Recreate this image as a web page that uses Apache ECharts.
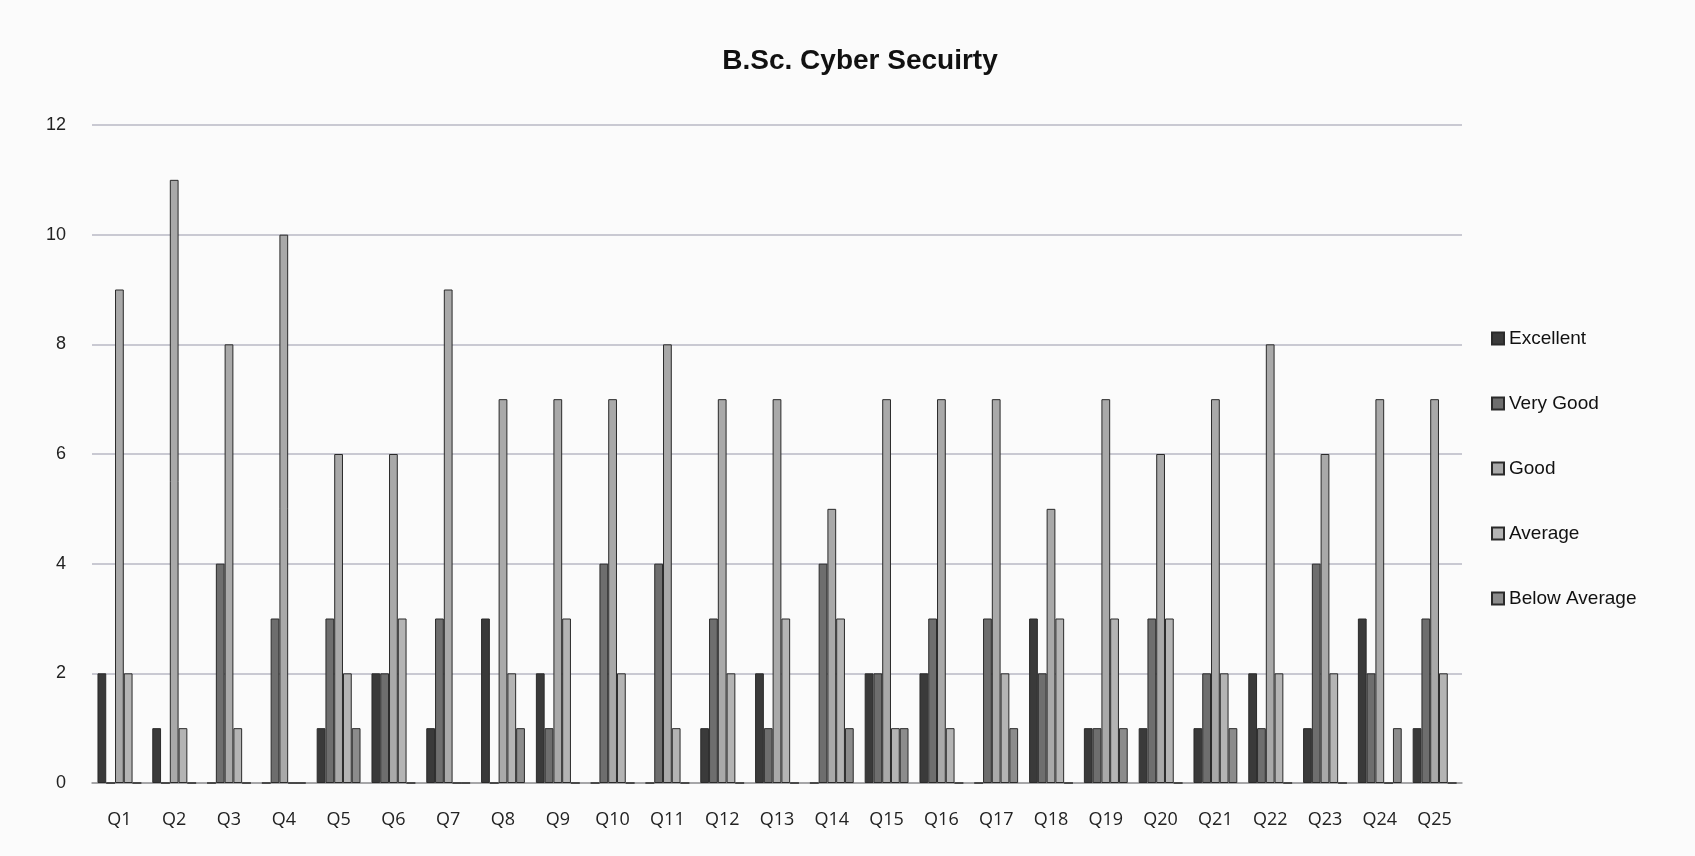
<!DOCTYPE html>
<html><head><meta charset="utf-8">
<script src="https://cdn.jsdelivr.net/npm/echarts@6/dist/echarts.min.js"></script>
<style>html,body{margin:0;padding:0;background:#fbfbfb}#c{width:1695px;height:856px}</style>
</head><body><div id="c"></div>
<script>
const categories = ['Q1','Q2','Q3','Q4','Q5','Q6','Q7','Q8','Q9','Q10','Q11','Q12','Q13','Q14','Q15','Q16','Q17','Q18','Q19','Q20','Q21','Q22','Q23','Q24','Q25'];
const excellent    = [2,1,0,0,1,2,1,3,2,0,0,1,2,0,2,2,0,3,1,1,1,2,1,3,1];
const veryGood     = [0,0,4,3,3,2,3,0,1,4,4,3,1,4,2,3,3,2,1,3,2,1,4,2,3];
const good         = [9,11,8,10,6,6,9,7,7,7,8,7,7,5,7,7,7,5,7,6,7,8,6,7,7];
const average      = [2,1,1,0,2,3,0,2,3,2,1,2,3,3,1,1,2,3,3,3,2,2,2,0,2];
const belowAverage = [0,0,0,0,1,0,0,1,0,0,0,0,0,1,1,0,1,0,1,0,1,0,0,1,0];
const yTicks = [0,2,4,6,8,10,12];

const seriesDefs = [
  ['Excellent', excellent, '#3a3a3a'],
  ['Very Good', veryGood, '#6e6e6e'],
  ['Good', good, '#a9a9a9'],
  ['Average', average, '#b4b4b4'],
  ['Below Average', belowAverage, '#8c8c8c']
];

const chart = echarts.init(document.getElementById('c'));
chart.setOption({
  backgroundColor: '#fbfbfb',
  animation: false,
  title: {
    text: 'B.Sc. Cyber Secuirty', left: 855, top: 42, textAlign: 'center',
    textStyle: {fontFamily: 'Liberation Sans Narrow, Liberation Sans, Arial', fontWeight: 'bold', fontSize: 28, color: '#111'}
  },
  legend: {
    orient: 'vertical', left: 1486, top: 324, itemGap: 46, itemWidth: 12, itemHeight: 12,
    icon: 'rect',
    textStyle: {fontFamily: 'Liberation Sans, Arial', fontSize: 19, color: '#111'},
    data: seriesDefs.map(s => s[0])
  },
  grid: {left: 92, right: 1695 - 1462, top: 125, bottom: 856 - 783, containLabel: false},
  xAxis: {
    type: 'category', data: categories,
    axisLine: {lineStyle: {color: '#9a9a9a', width: 1.5}},
    axisTick: {show: false},
    axisLabel: {fontFamily: 'Open Sans, Liberation Sans', fontSize: 18, color: '#222', margin: 28}
  },
  yAxis: {
    type: 'value', min: 0, max: 12, interval: 2,
    axisLine: {show: false}, axisTick: {show: false},
    axisLabel: {fontFamily: 'Liberation Sans Narrow, Liberation Sans', fontSize: 18, color: '#222', margin: 26,
      formatter: v => yTicks.includes(v) ? String(v) : ''},
    splitLine: {lineStyle: {color: '#b8b8c4', width: 1.5}}
  },
  series: seriesDefs.map(([name, data, color]) => ({
    name, type: 'bar', data,
    barGap: '0%', barCategoryGap: '20%',
    itemStyle: {color, borderColor: '#2a2a2a', borderWidth: 1}
  }))
});
</script></body></html>
